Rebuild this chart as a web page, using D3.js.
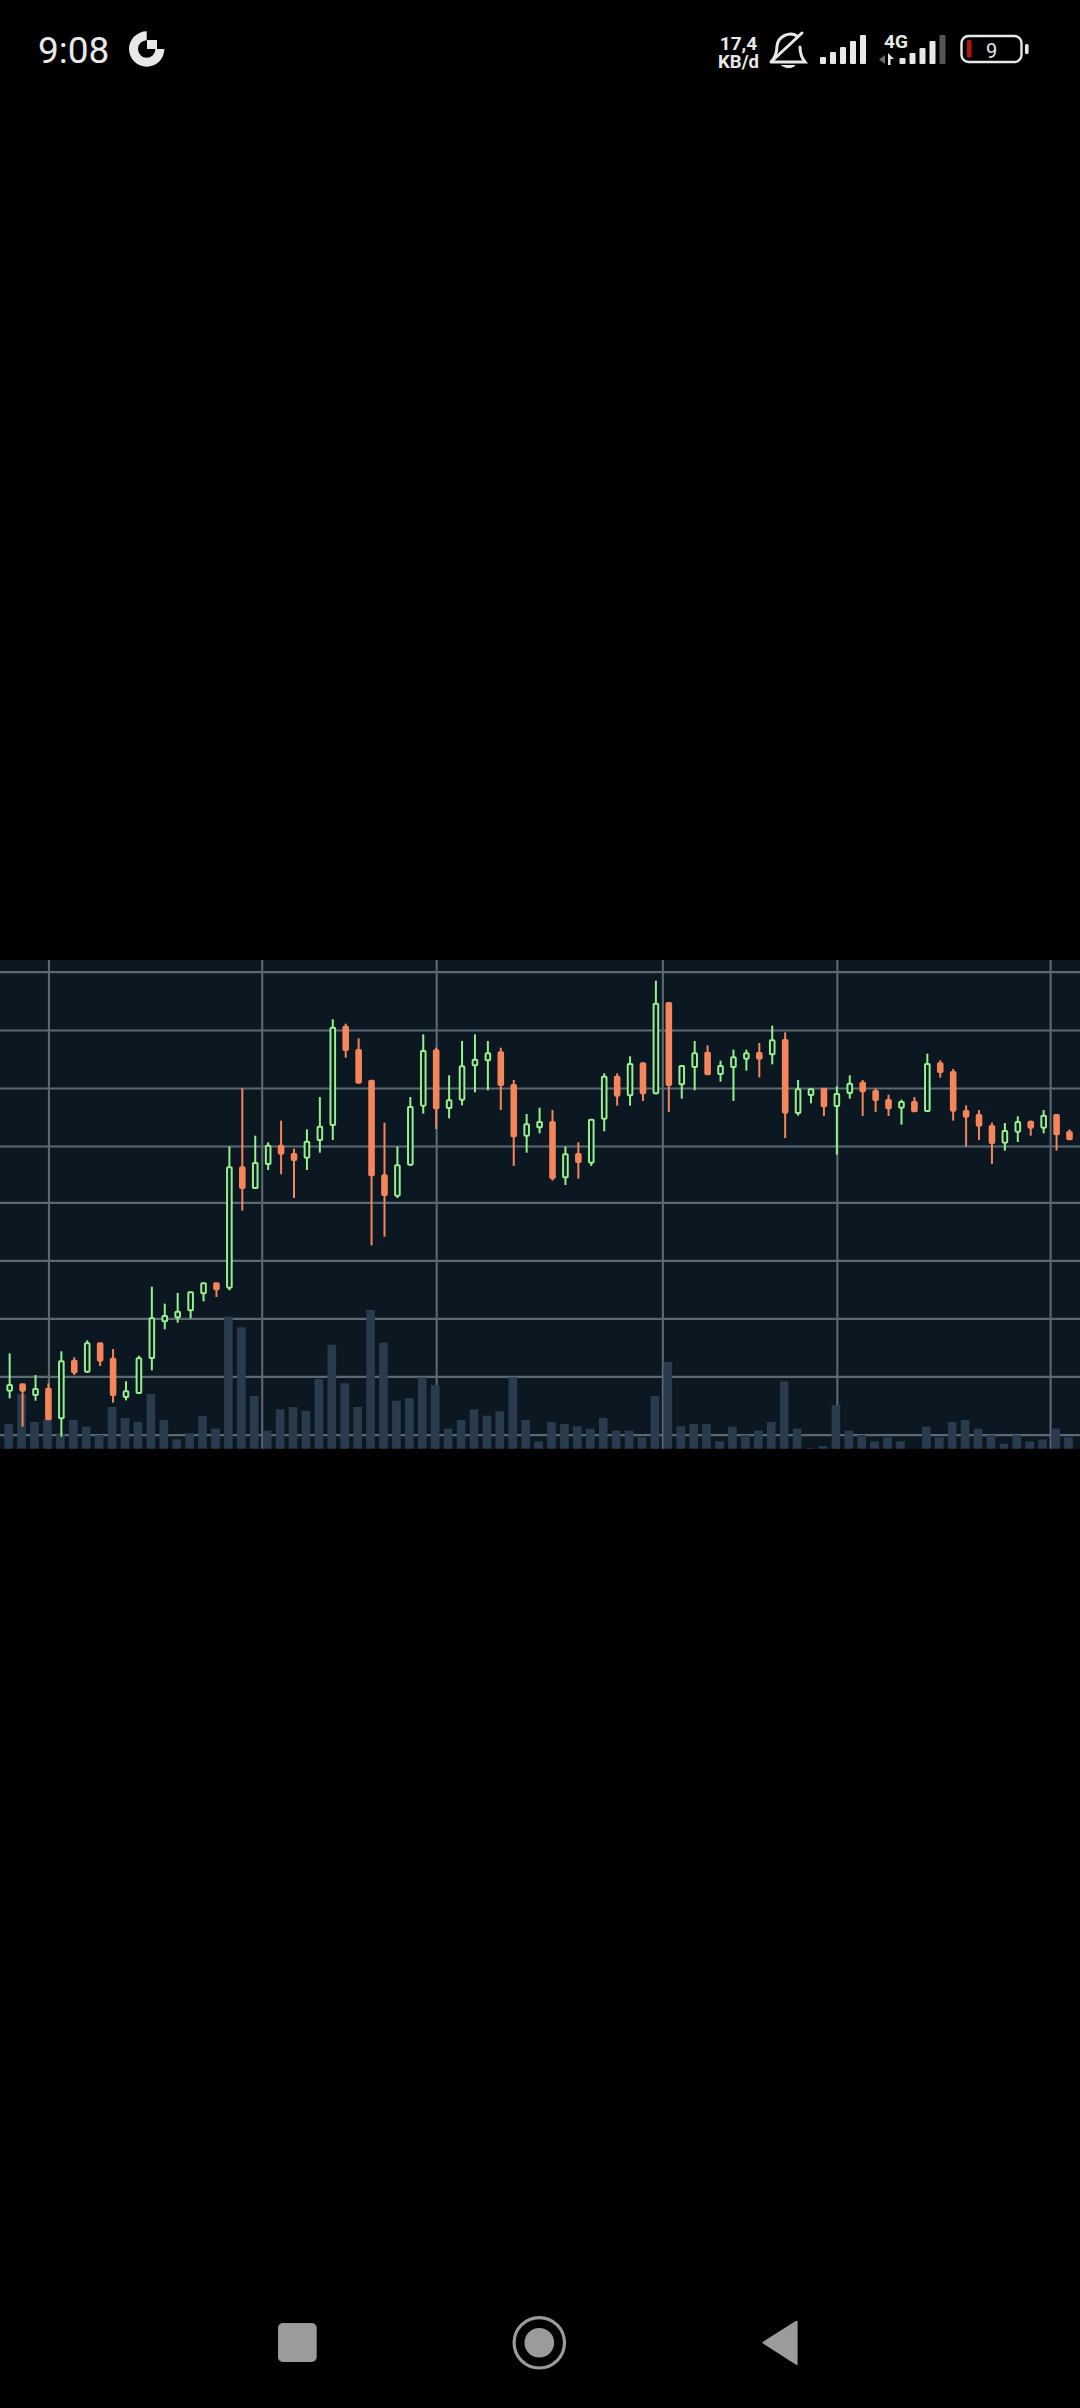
<!DOCTYPE html>
<html lang="en">
	<head>
		<meta charset="utf-8">
		<title>Candlestick chart</title>
		<script src="https://d3js.org/d3.v7.min.js"></script>
		<style>
			html, body {
				margin: 0;
				padding: 0;
				background: #000000;
			}
			svg {
				display: block;
			}
			text {
				font-family: Roboto, sans-serif;
				fill: #e8e8e8;
			}
			.grid .domain {
				display: none;
			}
			.grid line {
				stroke: #5c6872;
				stroke-width: 2.1;
			}
		</style>
	</head>
	<body>
		<div id="chart"></div>
		<script type="text/javascript">
			// values
			var opens = [178,197,165,184,95,268,235,320,274,159,171,276,386,398,419,470,500,487,848,786,858,913,888,877,930,975,1270,1200,1108,824,763,856,1033,1199,1026,1051,1154,1169,1193,1095,943,968,984,818,888,862,994,1120,1064,1160,1070,1341,1097,1149,1192,1128,1149,1174,1191,1187,1230,1011,1065,1084,1032,1071,1102,1077,1050,1027,1044,1017,1160,1134,1017,1005,972,922,955,985,967,1005,954];
			var highs = [290,197,225,200,296,278,329,320,303,206,283,490,439,471,473,502,500,910,1085,943,923,988,904,962,1059,1292,1279,1235,1110,982,910,1059,1247,1207,1124,1227,1247,1227,1207,1110,1008,1027,1020,910,923,993,1130,1130,1181,1162,1408,1343,1155,1227,1214,1168,1201,1201,1221,1273,1253,1110,1085,1085,1091,1124,1110,1085,1066,1051,1059,1189,1169,1143,1034,1020,982,981,1001,988,1020,1007,962];
			var lows = [155,70,148,90,40,225,232,252,142,149,168,239,362,382,395,446,459,479,718,784,840,827,756,840,892,930,1177,1100,614,640,756,853,1009,963,995,1034,1073,1079,1020,852,892,950,808,795,814,852,956,1033,1033,1047,1067,1014,1054,1079,1125,1105,1047,1138,1118,1157,936,1003,1040,1002,886,1054,1002,1014,1002,976,1014,1015,1117,988,910,930,858,898,924,943,950,898,930];
			var closes = [195,178,183,92,266,233,320,268,165,176,275,395,402,415,473,500,482,848,786,861,913,889,870,925,970,1267,1200,1102,824,765,854,1029,1197,1025,1049,1151,1171,1190,1095,941,977,984,816,887,864,991,1120,1063,1158,1070,1339,1095,1152,1190,1127,1152,1178,1190,1174,1229,1012,1082,1082,1031,1068,1099,1076,1050,1025,1044,1016,1158,1134,1018,1000,973,921,957,984,967,1003,947,932];
			var volumes = [74,164,80,88,46,86,66,41,125,92,80,164,86,28,47,98,60,396,364,158,54,118,125,113,209,312,196,125,416,318,144,151,214,191,60,86,118,99,112,214,86,22,80,74,67,60,92,54,54,34,158,260,67,74,74,22,66,41,54,80,202,60,2,8,131,54,41,22,34,22,0,66,34,80,86,60,41,15,41,22,28,60,34];
			var priceTicks = [46,221,395,569,743,912,1086,1260,1435];
			var timeTicks = [3,19.5,33,50.5,64,80.5];

			// status bar and navigation bar
			var clockLabel = "9:08";
			var speedLabels = ["17,4","KB/d"];
			var networkLabel = "4G";
			var batteryLabel = "9";
			var signalOne = [7,12,17,23,29];
			var signalTwo = [6,11,16,23,29];

			// settings for window
			var w = 1080;
			var h = 2408;
			var panelTop = 960;
			var panelBottom = 1448.67;

			var green = "#95f08e";
			var orange = "#f5855a";
			var panelColor = "#0c1821";
			var volumeColor = "#283c4d";

			var svg = d3.select("#chart").append("svg").attr("width",w).attr("height",h);

			var xScale = d3.scaleLinear().domain([0,82]).range([9.67,1069.5]);
			var yScale = d3.scaleLinear().domain([4,1470]).range([panelBottom,panelTop]);
			var volumeScale = d3.scaleLinear().domain([0,420]).range([panelBottom,panelBottom-140]);

			svg.append("rect").attr("x",0).attr("y",panelTop).attr("width",w).attr("height",panelBottom-panelTop).attr("fill",panelColor);

			// grid lines come from the axes
			var yGrid = d3.axisLeft(yScale).tickValues(priceTicks).tickSize(-w).tickFormat("");
			var xGrid = d3.axisBottom(xScale).tickValues(timeTicks).tickSize(-(panelBottom-panelTop)).tickFormat("");
			svg.append("g").attr("class","grid").call(yGrid);
			svg.append("g").attr("class","grid").attr("transform","translate(0,"+panelBottom+")").call(xGrid);

			// volume bars
			svg.append("g").selectAll("rect").data(volumes).enter().append("rect")
				.attr("x",function(d,i) { return xScale(i)-5.3; })
				.attr("y",function(d) { return volumeScale(d); })
				.attr("width",8.6)
				.attr("height",function(d) { return panelBottom-volumeScale(d); })
				.attr("fill",volumeColor);

			// candles
			var candles = svg.append("g").selectAll("g").data(opens).enter().append("g");
			function candleColor(d,i) {
				return closes[i] >= d ? green : orange;
			}
			candles.append("line")
				.attr("x1",function(d,i) { return xScale(i); })
				.attr("x2",function(d,i) { return xScale(i); })
				.attr("y1",function(d,i) { return yScale(highs[i]); })
				.attr("y2",function(d,i) { return yScale(lows[i]); })
				.attr("stroke",candleColor)
				.attr("stroke-width",2);
			candles.append("rect")
				.attr("x",function(d,i) { return xScale(i)-2.3; })
				.attr("y",function(d,i) { return yScale(Math.max(d,closes[i])); })
				.attr("width",4.6)
				.attr("height",function(d,i) { return Math.abs(yScale(d)-yScale(closes[i])); })
				.attr("rx",0.8)
				.attr("fill",function(d,i) { return closes[i] >= d ? panelColor : orange; })
				.attr("stroke",candleColor)
				.attr("stroke-width",2);

			// status bar, left side
			svg.append("text").attr("x",38).attr("y",62.5).attr("font-size",37).text(clockLabel);
			var ring = d3.arc().innerRadius(8.7).outerRadius(17.7).startAngle(Math.PI/2).endAngle(2*Math.PI);
			svg.append("path").attr("d",ring()).attr("transform","translate(146.7,49)").attr("fill","#e8e8e8");
			svg.append("rect").attr("x",147).attr("y",40).attr("width",10).attr("height",9).attr("fill","#e8e8e8");

			// status bar, right side
			svg.selectAll(".speed").data(speedLabels).enter().append("text").attr("class","speed")
				.attr("x",738.5)
				.attr("y",function(d,i) { return 50+i*18; })
				.attr("text-anchor","middle")
				.attr("font-size",function(d,i) { return i == 0 ? 19 : 18.5; })
				.attr("font-weight",700)
				.text(function(d) { return d; });

			// bell with a stroke through it
			var bell = svg.append("g").attr("fill","none").attr("stroke","#e8e8e8").attr("stroke-width",3).attr("stroke-linecap","round");
			bell.append("path").attr("d","M771 62 L805 62 C801 57 800 53 800 47 M771 62 C776 57 777 52 777 46 C778 36 790 31 797 36");
			bell.append("path").attr("d","M782 65.5 L795 65.5 Q789 70 782 65.5 Z").attr("fill","#e8e8e8").attr("stroke-width",1);
			bell.append("line").attr("x1",772).attr("y1",61).attr("x2",802).attr("y2",33);

			svg.selectAll(".sig1").data(signalOne).enter().append("rect").attr("class","sig1")
				.attr("x",function(d,i) { return 820+i*10; })
				.attr("y",function(d) { return 64-d; })
				.attr("width",6)
				.attr("height",function(d) { return d; })
				.attr("rx",1)
				.attr("fill","#e8e8e8");

			svg.append("text").attr("x",896).attr("y",47.5).attr("text-anchor","middle").attr("font-size",19).attr("font-weight",700).text(networkLabel);
			svg.append("path").attr("d","M879 59.5 L885 55 L885 64 Z").attr("fill","#6a6a6a");
			svg.append("path").attr("d","M888 53 L894 59 L890.5 59 L890.5 65 L888 65 Z").attr("fill","#e8e8e8");

			svg.selectAll(".sig2").data(signalTwo).enter().append("rect").attr("class","sig2")
				.attr("x",function(d,i) { return 899.5+i*10; })
				.attr("y",function(d) { return 64-d; })
				.attr("width",6)
				.attr("height",function(d) { return d; })
				.attr("rx",1)
				.attr("fill",function(d,i) { return i == 4 ? "#555555" : "#e8e8e8"; });

			// battery
			svg.append("rect").attr("x",961.5).attr("y",36).attr("width",60).attr("height",26).attr("rx",7).attr("fill","none").attr("stroke","#e8e8e8").attr("stroke-width",2.4);
			svg.append("rect").attr("x",967).attr("y",40).attr("width",4.5).attr("height",17.5).attr("rx",1).attr("fill","#b31414");
			svg.append("rect").attr("x",1025).attr("y",44).attr("width",3.6).attr("height",10).attr("rx",1.5).attr("fill","#e8e8e8");
			svg.append("text").attr("x",991.5).attr("y",57.5).attr("text-anchor","middle").attr("font-size",20).text(batteryLabel);

			// navigation bar
			var navColor = "#9b9b9b";
			svg.append("rect").attr("x",278).attr("y",2323).attr("width",38.7).attr("height",39).attr("rx",5).attr("fill",navColor);
			svg.append("circle").attr("cx",539.3).attr("cy",2342.8).attr("r",25.2).attr("fill","none").attr("stroke",navColor).attr("stroke-width",3.2);
			svg.append("circle").attr("cx",539.3).attr("cy",2342.8).attr("r",14.8).attr("fill",navColor);
			svg.append("path").attr("d","M763.5 2342.7 L796.6 2321.7 L796.6 2364 Z").attr("fill",navColor).attr("stroke",navColor).attr("stroke-width",2).attr("stroke-linejoin","round");
		</script>
	</body>
</html>
